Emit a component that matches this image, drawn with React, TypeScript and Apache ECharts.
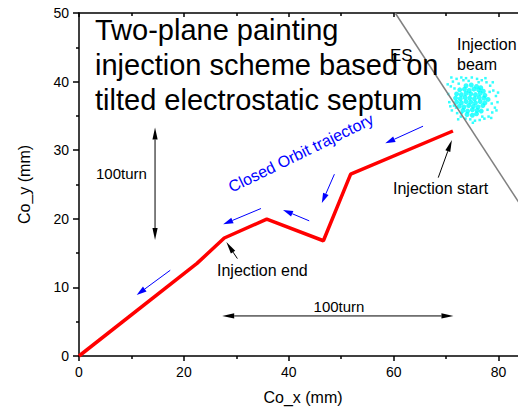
import React, { useEffect, useRef } from "react";
import * as echarts from "echarts";

const FONT = "'Liberation Sans', Arial, Helvetica, sans-serif";

// Closed orbit trajectory (red)
const orbitX = [0, 22.5, 27.7, 35.8, 46.6, 51.8, 71.3];
const orbitY = [0, 13.5, 17.2, 19.95, 16.8, 26.5, 32.8];

// Electrostatic septum line (grey)
const septumX = [60.3, 90];
const septumY = [50, 15.2];

// Injection beam (cyan) – dense core and sparse halo
const beamCore: number[][] = [
  [73.8, 39.4], [74.8, 39.5], [75.8, 39.3], [76.6, 39.1],
  [72.6, 38.8], [73.5, 38.9], [74.4, 38.7], [75.3, 38.9], [76.2, 38.8], [77.1, 38.6],
  [72.0, 38.2], [72.9, 38.1], [73.8, 38.3], [74.7, 38.2], [75.6, 38.1], [76.5, 38.3], [77.4, 38.0],
  [71.8, 37.6], [72.7, 37.5], [73.6, 37.7], [74.5, 37.6], [75.4, 37.5], [76.3, 37.7], [77.2, 37.6], [78.0, 37.4],
  [72.0, 37.0], [72.9, 36.9], [73.8, 37.1], [74.7, 37.0], [75.6, 36.9], [76.5, 37.1], [77.4, 36.9],
  [72.5, 36.4], [73.4, 36.3], [74.3, 36.5], [75.2, 36.4], [76.1, 36.3], [77.0, 36.5],
  [73.2, 35.8], [74.1, 35.7], [75.0, 35.9], [75.9, 35.8], [76.7, 35.7],
  [74.0, 35.2], [75.0, 35.1], [75.8, 35.3],
];
const beamHalo: number[][] = [
  [70.4, 38.2], [70.6, 37.0], [70.9, 39.3], [71.1, 35.8], [71.3, 40.0], [72.0, 40.4], [72.9, 40.6],
  [73.8, 40.5], [74.9, 40.6], [75.9, 40.4], [76.8, 40.2], [77.7, 39.9], [78.4, 39.4], [79.0, 38.7],
  [79.5, 37.9], [79.8, 37.0], [79.3, 36.2], [78.8, 35.5], [78.1, 34.9], [77.3, 34.6], [76.4, 34.4],
  [75.5, 34.3], [74.6, 34.5], [73.7, 34.6], [72.8, 34.9], [72.1, 35.4], [71.5, 36.5], [70.3, 39.6],
  [71.6, 39.0], [72.4, 39.7], [78.3, 38.5], [78.7, 36.8], [77.9, 35.9], [73.0, 35.4], [71.9, 36.2],
  [76.9, 34.9], [79.9, 38.4], [70.8, 36.4], [74.3, 40.1], [76.2, 39.9], [77.5, 40.5], [72.3, 34.5],
  [75.1, 34.0], [78.6, 34.7], [79.6, 35.8], [71.0, 40.6], [73.3, 40.2], [78.9, 39.9],
];

// Arrows in data coords: [tailX, tailY, headX, headY]
const blueArrows: number[][] = [
  [65.6, 33.5, 58.4, 31.0],
  [34.7, 21.5, 27.5, 19.2],
  [43.9, 19.7, 38.9, 21.3],
  [48.7, 26.5, 46.3, 22.3],
  [17.4, 12.5, 11.0, 8.9],
];
const blackArrows: number[][] = [
  [30.2, 14.2, 28.1, 16.6],
  [68.5, 26.0, 71.1, 31.5],
];
const doubleArrows: number[][] = [
  [14.5, 33.3, 14.5, 16.9],
  [27.3, 5.84, 71.4, 5.84],
];

const titleLines = ["Two-plane painting", "injection scheme based on", "tilted electrostatic septum"];

function arrowEls(
  p1: number[], p2: number[], color: string, L: number, w: number, dbl: boolean
): any[] {
  const dx = p2[0] - p1[0];
  const dy = p2[1] - p1[1];
  const len = Math.hypot(dx, dy) || 1;
  const ux = dx / len, uy = dy / len;
  const nx = -uy, ny = ux;
  const els: any[] = [];
  const b2 = [p2[0] - ux * L, p2[1] - uy * L];
  els.push({
    type: "polygon", silent: true, z: 100,
    shape: { points: [p2, [b2[0] + nx * w, b2[1] + ny * w], [b2[0] - nx * w, b2[1] - ny * w]] },
    style: { fill: color },
  });
  let s = p1;
  if (dbl) {
    const b1 = [p1[0] + ux * L, p1[1] + uy * L];
    els.push({
      type: "polygon", silent: true, z: 100,
      shape: { points: [p1, [b1[0] + nx * w, b1[1] + ny * w], [b1[0] - nx * w, b1[1] - ny * w]] },
      style: { fill: color },
    });
    s = b1;
  }
  els.push({
    type: "line", silent: true, z: 100,
    shape: { x1: s[0], y1: s[1], x2: b2[0], y2: b2[1] },
    style: { stroke: color, lineWidth: 1 },
  });
  return els;
}

export default function App() {
  const ref = useRef<HTMLDivElement>(null);
  useEffect(() => {
    if (!ref.current) return;
    const chart = echarts.init(ref.current, undefined, { renderer: "svg" });
    const axisLine = { show: true, lineStyle: { color: "#000", width: 1.5 } };
    const tickStyle = { color: "#000", width: 1.5 };
    chart.setOption({
      animation: false,
      backgroundColor: "#fff",
      grid: { left: 79, right: 0, top: 13, bottom: 56, containLabel: false },
      xAxis: [
        {
          type: "value", position: "bottom", min: 0, max: 90, interval: 20,
          axisLine, splitLine: { show: false },
          axisTick: { show: true, inside: false, length: 5, lineStyle: tickStyle },
          minorTick: { show: true, splitNumber: 2, length: 3, lineStyle: tickStyle },
          axisLabel: { fontSize: 14, color: "#000", fontFamily: FONT, margin: 9, showMaxLabel: false },
          name: "Co_x (mm)", nameLocation: "middle", nameGap: 33,
          nameTextStyle: { fontSize: 16, color: "#000", fontFamily: FONT, padding: [0, 24, 0, 0] },
        },
        {
          type: "value", position: "top", min: 0, max: 90, interval: 20,
          axisLine, splitLine: { show: false },
          axisTick: { show: true, inside: true, length: 4, lineStyle: tickStyle },
          minorTick: { show: true, splitNumber: 2, length: 3, lineStyle: tickStyle },
          axisLabel: { show: false },
        },
      ],
      yAxis: [
        {
          type: "value", min: 0, max: 50, interval: 10,
          axisLine, splitLine: { show: false },
          axisTick: { show: true, inside: false, length: 6, lineStyle: tickStyle },
          minorTick: { show: true, splitNumber: 2, length: 3, lineStyle: tickStyle },
          axisLabel: { fontSize: 14, color: "#000", fontFamily: FONT, margin: 10 },
          name: "Co_y (mm)", nameLocation: "middle", nameGap: 47,
          nameTextStyle: { fontSize: 16, color: "#000", fontFamily: FONT },
        },
      ],
      series: [
        {
          type: "scatter", symbol: "circle", symbolSize: 5, silent: true,
          itemStyle: { color: "#00ffff" },
          data: beamCore,
        },
        {
          type: "scatter", symbol: "rect", symbolSize: 2.5, silent: true,
          itemStyle: { color: "#00ffff" },
          data: beamHalo,
        },
        {
          type: "line", symbol: "none", silent: true,
          lineStyle: { color: "#808080", width: 1.5 },
          data: septumX.map((x, i) => [x, septumY[i]]),
        },
        {
          type: "line", symbol: "none", silent: true,
          lineStyle: { color: "#ff0000", width: 3.5 },
          data: orbitX.map((x, i) => [x, orbitY[i]]),
        },
      ],
    });

    const px = (x: number, y: number) => chart.convertToPixel({ xAxisIndex: 0, yAxisIndex: 0 }, [x, y]) as number[];
    const graphics: any[] = [];
    blueArrows.forEach((a) => graphics.push(...arrowEls(px(a[0], a[1]), px(a[2], a[3]), "#0000ff", 10, 3, false)));
    blackArrows.forEach((a) => graphics.push(...arrowEls(px(a[0], a[1]), px(a[2], a[3]), "#000", 12, 2.6, false)));
    doubleArrows.forEach((a) => graphics.push(...arrowEls(px(a[0], a[1]), px(a[2], a[3]), "#000", 12, 2.6, true)));

    const txt = (text: string, x: number, y: number, size: number, extra: any = {}) => ({
      type: "text", x, y, silent: true, z: 110,
      style: { text, font: `${size}px ${FONT}`, fill: extra.fill || "#000", align: extra.align || "left",
        verticalAlign: extra.verticalAlign || "middle", lineHeight: extra.lineHeight },
      rotation: extra.rotation || 0,
    });
    graphics.push(txt(titleLines.join("\n"), 95, 12, 29, { verticalAlign: "top", lineHeight: 35 }));
    graphics.push(txt("ES", 390, 47, 17, { verticalAlign: "top" }));
    graphics.push(txt("Injection\nbeam", 457, 34, 16, { verticalAlign: "top", lineHeight: 20 }));
    graphics.push(txt("Closed Orbit trajectory", 301, 153, 16, { fill: "#0000ff", align: "center", rotation: (26 * Math.PI) / 180 }));
    graphics.push(txt("100turn", 96, 173, 15));
    graphics.push(txt("100turn", 339, 306, 15, { align: "center" }));
    graphics.push(txt("Injection end", 217, 270, 16));
    graphics.push(txt("Injection start", 393, 188, 16));
    chart.setOption({ graphic: graphics });

    return () => chart.dispose();
  }, []);

  return (
    <div style={{ position: "fixed", left: 0, top: 0, width: 518, height: 412, overflow: "hidden", background: "#fff" }}>
      <div ref={ref} style={{ width: 551, height: 412 }} />
    </div>
  );
}
